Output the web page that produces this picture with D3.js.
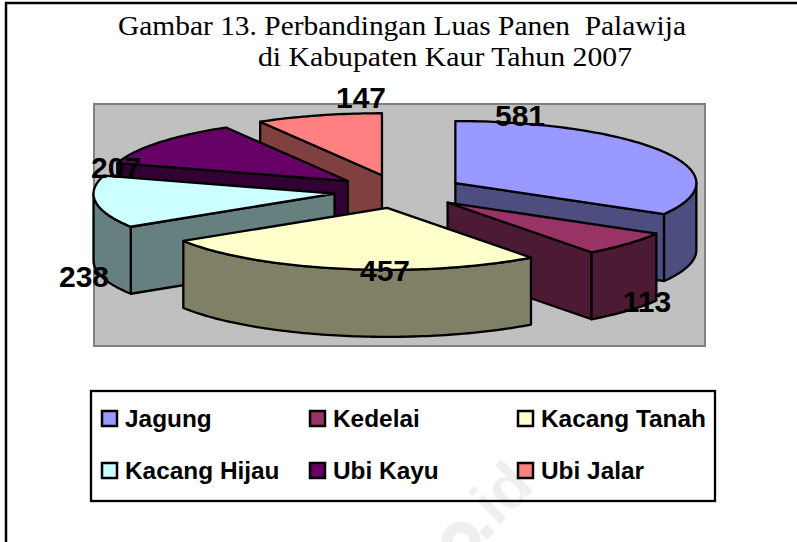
<!DOCTYPE html>
<html><head><meta charset="utf-8">
<script src="https://cdnjs.cloudflare.com/ajax/libs/d3/7.8.5/d3.min.js"></script>
<style>html,body{margin:0;padding:0;background:#fff}svg{display:block}text{white-space:pre}</style>
</head><body><svg id="c" width="797" height="542"></svg>
<script>
const categories = ["Jagung","Kedelai","Kacang Tanah","Kacang Hijau","Ubi Kayu","Ubi Jalar"];
const values = [581,113,457,238,207,147];
const topColors = ["#9999ff","#993366","#ffffcc","#ccffff","#660066","#ff8080"];
const sideColors = ["#4d4d80","#4d1a33","#808066","#668080","#330033","#804040"];
const titleLines = ["Gambar 13. Perbandingan Luas Panen  Palawija","di Kabupaten Kaur Tahun 2007"];
const labelPos = [[520,126],[647,312],[385,281],[84,287],[116,178],[361,108]];

const svg = d3.select("#c");
const W=797,H=542;
const cx=399, cy=191.4, rx=241, ry=62, depth=67, explode=0.27;

// watermark
svg.append("text").attr("transform","translate(536,488) rotate(-45)")
  .attr("text-anchor","end").attr("font-family","Liberation Sans").attr("font-weight","bold")
  .attr("font-size",62).attr("fill","#efefef").text("id");
svg.append("rect").attr("x",-5.5).attr("y",-5.5).attr("width",11).attr("height",11)
  .attr("transform","translate(487,532) rotate(45)").attr("fill","#efefef");
svg.append("circle").attr("cx",461).attr("cy",541).attr("r",14).attr("fill","none").attr("stroke","#efefef").attr("stroke-width",11);

// outer frame
svg.append("path").attr("d",`M6,${H} V3 H${W}`).attr("fill","none").attr("stroke","#000").attr("stroke-width",2.5);

// title
const titleG = svg.append("g").attr("font-family","Liberation Serif").attr("fill","#000").attr("font-size",27);
titleG.append("text").attr("x",118).attr("y",35).attr("textLength",568).attr("lengthAdjust","spacingAndGlyphs").text(titleLines[0]);
titleG.append("text").attr("x",258).attr("y",66).attr("textLength",374).attr("lengthAdjust","spacingAndGlyphs").text(titleLines[1]);

// plot area
svg.append("rect").attr("x",94).attr("y",104).attr("width",611).attr("height",242)
  .attr("fill","#c0c0c0").attr("stroke","#808080").attr("stroke-width",2);

// pie geometry
const arcs = d3.pie().sort(null)(values);
const sx = d3.scaleLinear().domain([-1,1]).range([-rx,rx]);
const sy = d3.scaleLinear().domain([-1,1]).range([ry,-ry]);
const slices = arcs.map((a,i)=>{
  const mid=(a.startAngle+a.endAngle)/2;
  return {i,a0:a.startAngle,a1:a.endAngle,
    ox:cx+sx(explode*Math.sin(mid)), oy:cy+sy(explode*Math.cos(mid))};
});
const rimPt=(s,t,dz=0)=>[s.ox+sx(Math.sin(t)), s.oy+sy(Math.cos(t))+dz];
const samples=(a,b)=>{const n=Math.max(2,Math.ceil((b-a)/0.02));return d3.range(n+1).map(k=>a+(b-a)*k/n);};
const line=d3.line();
const g=svg.append("g").attr("stroke","#000").attr("stroke-width",2.3).attr("stroke-linejoin","round");

function drawSlice(s){
  const side=sideColors[s.i], top=topColors[s.i];
  const wall=(t)=>{
    const p=rimPt(s,t);
    g.append("path").attr("fill",side).attr("d",line([[s.ox,s.oy],p,[p[0],p[1]+depth],[s.ox,s.oy+depth]])+"Z");
  };
  if(Math.sin(s.a0)<-1e-6) wall(s.a0);
  if(Math.sin(s.a1)>1e-6) wall(s.a1);
  const from=Math.max(s.a0,Math.PI/2), to=Math.min(s.a1,3*Math.PI/2);
  if(to>from){
    const ts=samples(from,to);
    const up=ts.map(t=>rimPt(s,t)), dn=ts.slice().reverse().map(t=>rimPt(s,t,depth));
    g.append("path").attr("fill",side).attr("d",line(up.concat(dn))+"Z");
  }
  g.append("path").attr("fill",top)
   .attr("d",line([[s.ox,s.oy]].concat(samples(s.a0,s.a1).map(t=>rimPt(s,t))))+"Z");
}
[5,4,3,0,1,2].forEach(k=>drawSlice(slices[k]));

// value labels
svg.append("g").attr("font-family","Liberation Sans").attr("font-weight","bold").attr("font-size",30).attr("text-anchor","middle").attr("fill","#000")
 .selectAll("text").data(values).join("text")
 .attr("x",(d,i)=>labelPos[i][0]).attr("y",(d,i)=>labelPos[i][1]).text(d=>d);

// legend
svg.append("rect").attr("x",91).attr("y",391).attr("width",624).attr("height",110).attr("fill","none").attr("stroke","#000").attr("stroke-width",2.3);
const colX=d3.scaleOrdinal().domain([0,1,2]).range([102,310,518]);
const rowY=d3.scaleOrdinal().domain([0,1]).range([411,463]);
const leg=svg.append("g").selectAll("g").data(categories).join("g")
 .attr("transform",(d,i)=>`translate(${colX(i%3)},${rowY(Math.floor(i/3))})`);
leg.append("rect").attr("width",15).attr("height",15).attr("fill",(d,i)=>topColors[i]).attr("stroke","#000").attr("stroke-width",2.5);
leg.append("text").attr("x",23).attr("y",16).attr("font-family","Liberation Sans").attr("font-weight","bold").attr("font-size",24.4).attr("fill","#000").text(d=>d);
</script></body></html>
